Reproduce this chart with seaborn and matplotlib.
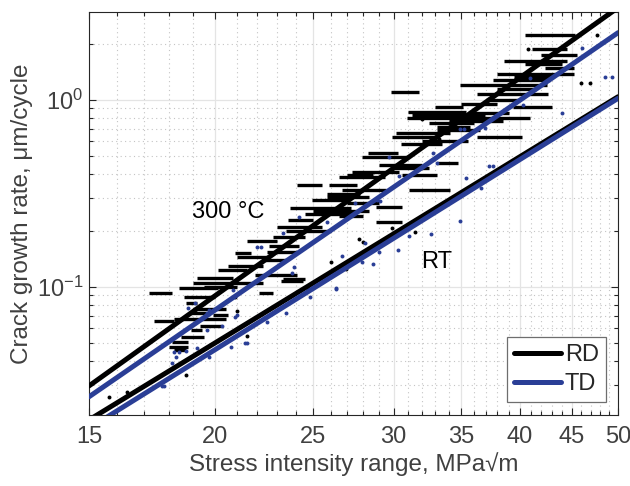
"""Crack growth rate vs stress intensity range, RD/TD at RT and 300 C"""
import matplotlib
matplotlib.use("Agg")
import matplotlib.pyplot as plt
from matplotlib.ticker import FixedLocator, FixedFormatter, NullFormatter
from matplotlib.lines import Line2D
import seaborn as sns

# ---- fitted Paris lines (end points at K = 15 and 50) ----
fit_k = [15, 50]
rd_300 = [0.0295, 3.12]
td_300 = [0.0258, 2.29]
rd_rt = [0.0194, 1.04]
td_rt = [0.0175, 1.02]

# ---- RD measurements at 300 C: horizontal streaks (rate, K from, K to) ----
streak_rate = [2.23, 1.88, 1.75, 1.62, 1.55, 1.48, 1.38, 1.33, 1.28, 1.20,
               1.15, 1.10, 1.08, 1.00, 0.95, 0.917, 0.917, 0.862, 0.85,
               0.831, 0.801, 0.77, 0.75, 0.717, 0.69, 0.666, 0.634, 0.634,
               0.60, 0.58, 0.520, 0.495, 0.460, 0.45, 0.43, 0.412, 0.396,
               0.396, 0.387, 0.350, 0.350, 0.330, 0.330, 0.314, 0.302, 0.291,
               0.280, 0.267, 0.264, 0.254, 0.245, 0.240, 0.228, 0.222, 0.210,
               0.200, 0.185, 0.175, 0.165, 0.153, 0.152, 0.145, 0.139, 0.130,
               0.123, 0.116, 0.111, 0.110, 0.108, 0.105, 0.100, 0.0985,
               0.0925, 0.0925, 0.0880, 0.0818, 0.0760, 0.0723, 0.0705,
               0.0671, 0.0654, 0.0620, 0.0586, 0.0540, 0.0506, 0.0475, 0.0458]
streak_k0 = [40.5, 41.1, 42.0, 38.6, 40.5, 42.3, 38.0, 39.5, 37.6, 34.9,
             38.0, 29.8, 36.3, 37.0, 35.0, 33.0, 39.4, 31.0, 35.5,
             31.3, 30.9, 34.0, 32.5, 33.1, 33.1, 30.2, 36.3, 29.9,
             32.0, 30.5, 28.3, 27.9, 33.1, 29.0, 30.0, 27.3, 27.0,
             30.6, 26.5, 24.1, 25.9, 26.7, 31.1, 25.8, 25.8, 24.9,
             27.0, 28.8, 23.7, 25.0, 24.5, 26.5, 23.6, 28.8, 23.0,
             23.5, 22.8, 21.5, 22.6, 22.5, 20.9, 21.0, 22.4, 20.6,
             20.1, 21.9, 19.2, 23.3, 23.2, 19.0, 19.5, 18.4,
             17.2, 22.1, 18.6, 18.7, 19.0, 18.9, 19.9,
             18.2, 17.4, 19.3, 18.9, 18.5, 18.1, 18.0, 18.2]
streak_k1 = [45.3, 44.5, 45.5, 44.5, 44.0, 45.2, 45.2, 43.0, 42.8, 42.5,
             41.5, 31.8, 42.6, 40.0, 38.0, 35.1, 43.0, 35.4, 39.0,
             36.9, 40.9, 38.5, 36.0, 35.7, 36.5, 34.1, 40.2, 33.1,
             35.5, 33.5, 30.3, 30.9, 34.7, 32.0, 32.5, 30.4, 28.6,
             33.1, 29.4, 25.5, 27.6, 29.5, 34.1, 27.8, 28.4, 27.0,
             29.0, 30.6, 27.2, 28.4, 27.5, 28.0, 25.0, 30.6, 25.5,
             26.0, 24.5, 23.0, 24.2, 24.1, 21.7, 22.5, 23.5, 22.3,
             21.5, 24.1, 20.8, 24.5, 24.4, 22.3, 21.0, 20.1,
             18.1, 22.8, 20.0, 19.2, 20.5, 19.6, 20.6,
             20.5, 18.2, 20.3, 19.4, 19.5, 18.8, 18.8, 18.7]

# ---- isolated RD points ----
rd_k = [47.7, 40.7, 46.0, 46.9, 15.7, 16.35, 18.7, 21.0, 21.5, 27.7, 28.0,
        29.9, 31.5, 26.0, 26.9, 33.3, 32.0, 20.9, 24.7]
rd_rate = [2.23, 1.88, 1.23, 1.23, 0.0257, 0.0273, 0.0337, 0.0741, 0.0544,
           0.180, 0.174, 0.206, 0.196, 0.136, 0.124, 0.62, 0.79, 0.088, 0.098]

# ---- TD points ----
td_k = [46.1, 48.5, 49.3, 40.9, 44.0, 40.3, 34.9, 35.2, 36.9, 32.8, 29.7,
        33.1, 37.3, 37.6, 35.4, 36.6, 29.1, 30.4, 28.9, 27.5, 34.9, 32.7,
        31.1, 30.3, 29.0, 28.6, 27.9, 26.7, 28.1, 26.3, 25.8, 24.2, 23.3,
        22.0, 22.2, 23.9, 23.8, 20.8, 24.8, 26.3, 23.5, 22.5, 20.9, 21.0,
        19.6, 19.7, 18.8, 19.1, 20.3, 19.6, 21.5, 20.7, 19.7, 19.2, 18.7,
        18.4, 18.2, 18.3, 18.1, 17.8, 17.7, 21.4]
td_rate = [1.90, 1.33, 1.33, 1.31, 0.852, 0.94, 0.70, 0.70, 0.71, 0.52, 0.495,
           0.46, 0.443, 0.443, 0.380, 0.337, 0.288, 0.39, 0.291, 0.281, 0.225,
           0.192, 0.187, 0.158, 0.154, 0.132, 0.135, 0.146, 0.171, 0.097,
           0.222, 0.236, 0.194, 0.163, 0.163, 0.128, 0.118, 0.096, 0.088,
           0.099, 0.072, 0.065, 0.069, 0.0710, 0.0723, 0.075, 0.077, 0.082,
           0.0615, 0.059, 0.050, 0.0475, 0.042, 0.047, 0.0455, 0.045, 0.045,
           0.042, 0.039, 0.0293, 0.0294, 0.050]

x_major = [15, 20, 25, 30, 35, 40, 45, 50]

BLUE = "#2a3e96"
GREY = "#404040"

sns.set_style("ticks")
plt.rcParams["font.family"] = ["Liberation Sans", "DejaVu Sans"]
plt.rcParams["mathtext.fontset"] = "custom"
plt.rcParams["mathtext.rm"] = "Liberation Sans"

fig = plt.figure(figsize=(6.3, 4.86), dpi=100)
ax = fig.add_axes([0.1413, 0.146, 0.8397, 0.829])
ax.set_xscale("log")
ax.set_yscale("log")

# data
ax.hlines(streak_rate, streak_k0, streak_k1, color="black", lw=2.4, zorder=3)
sns.scatterplot(x=rd_k, y=rd_rate, color="black", s=8, linewidth=0, ax=ax,
                zorder=3)
sns.scatterplot(x=td_k, y=td_rate, color=BLUE, s=8, linewidth=0, ax=ax,
                zorder=4)

# fits
for vals, col in [(rd_300, "black"), (td_300, BLUE), (rd_rt, "black"),
                  (td_rt, BLUE)]:
    sns.lineplot(x=fit_k, y=vals, color=col, lw=3.6, ax=ax, zorder=5)

ax.set_xlim(15, 50)
ax.set_ylim(0.0206, 2.95)

ax.xaxis.set_major_locator(FixedLocator(x_major))
ax.xaxis.set_major_formatter(FixedFormatter([str(v) for v in x_major]))
ax.xaxis.set_minor_locator(FixedLocator([v for v in range(16, 50)
                                         if v not in x_major]))
ax.xaxis.set_minor_formatter(NullFormatter())
ax.yaxis.set_minor_formatter(NullFormatter())

ax.grid(which="major", color="#e4e4e4", lw=0.9, ls="-", zorder=0)
ax.grid(which="minor", color="#c4c4c4", lw=0.8, ls=(0, (1, 3)), zorder=0)
ax.set_axisbelow(True)

ax.tick_params(which="both", direction="in", top=True, right=True,
               color="#262626", labelcolor=GREY, labelsize=17, width=0.8)
ax.tick_params(which="major", length=5)
ax.tick_params(axis="x", which="major", pad=8)
ax.tick_params(axis="y", which="major", pad=4)
ax.tick_params(which="minor", length=3)
for sp in ax.spines.values():
    sp.set_color("#262626")
    sp.set_linewidth(0.8)

ax.set_xlabel("Stress intensity range, MPa\u221am", fontsize=17.5,
              color=GREY, labelpad=3)
ax.set_ylabel("Crack growth rate, \u03bcm/cycle", fontsize=17.5,
              color=GREY, labelpad=3)

ax.text(20.6, 0.251, "300 \u00b0C", fontsize=17, ha="center", va="center",
        color="black")
ax.text(33.1, 0.1356, "RT", fontsize=17, ha="center", va="center",
        color="black")

handles = [Line2D([], [], color="black", lw=3.6),
           Line2D([], [], color=BLUE, lw=3.6)]
leg = ax.legend(handles, ["RD", "TD"], loc="lower right", fontsize=17,
                frameon=True, fancybox=False, framealpha=1,
                edgecolor="#6e6e6e", handlelength=2.0, handletextpad=0.15,
                borderpad=0.3, labelspacing=0.3, borderaxespad=0,
                bbox_to_anchor=(0.977, 0.032))
leg.get_frame().set_linewidth(0.9)

fig.savefig("out.png", dpi=100)
plt.close(fig)
